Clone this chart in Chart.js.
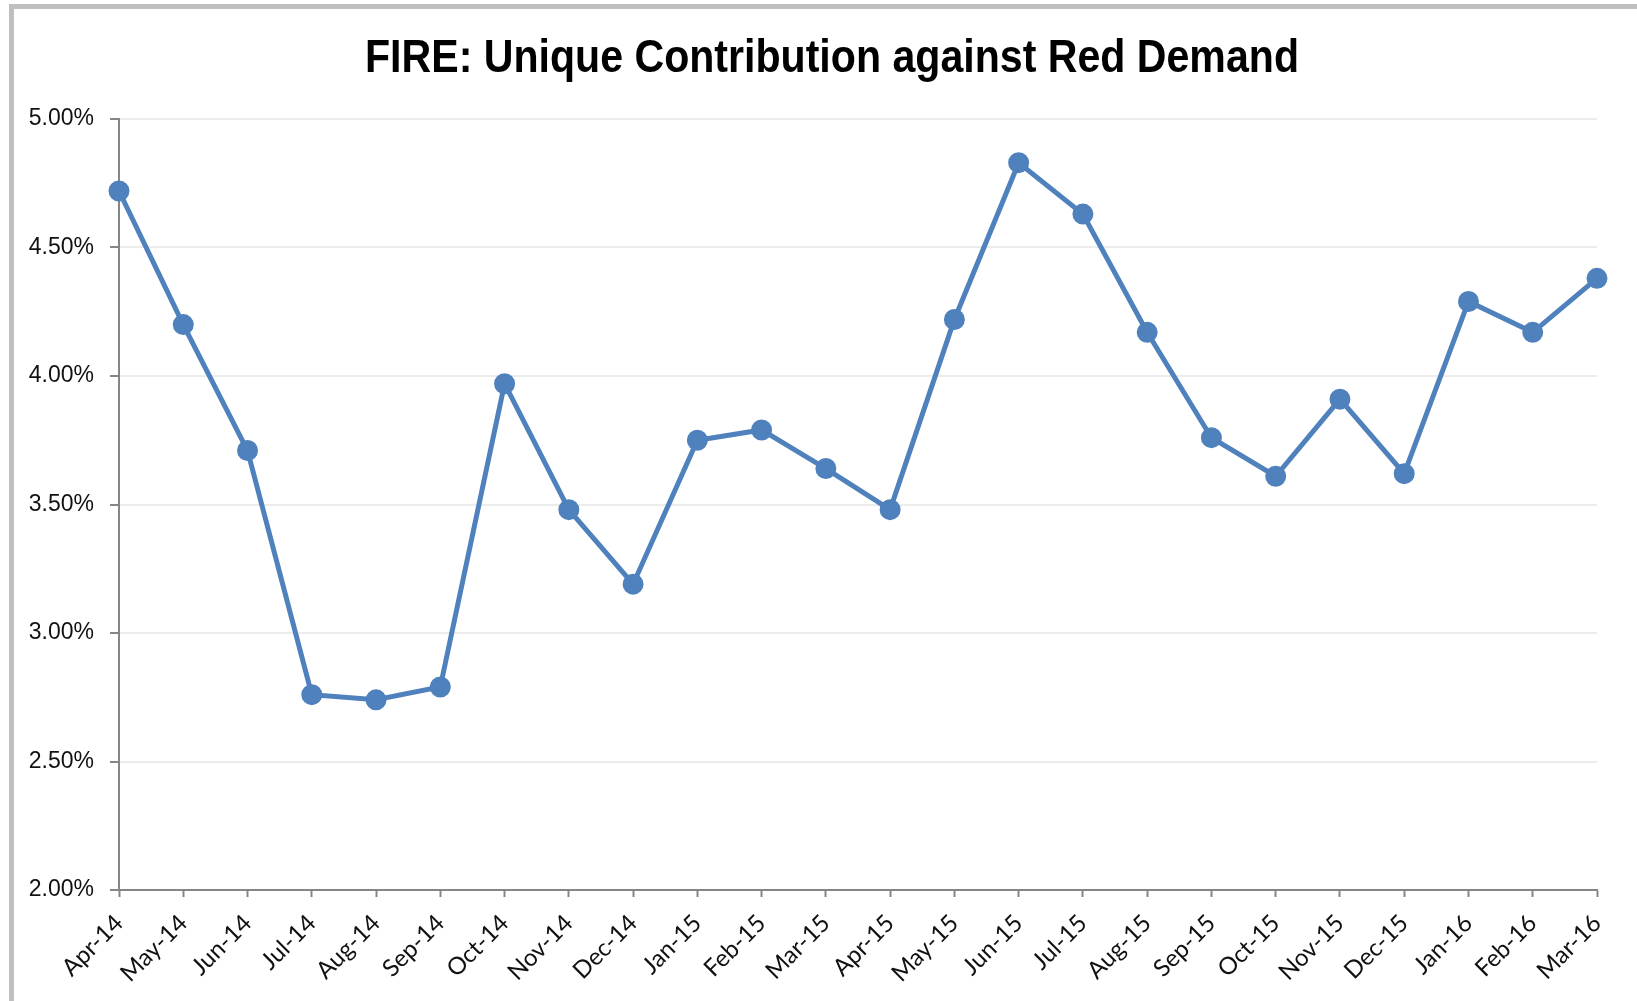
<!DOCTYPE html>
<html>
<head>
<meta charset="utf-8">
<script src="https://cdn.jsdelivr.net/npm/chart.js@4.4.1/dist/chart.umd.min.js"></script>
<style>
  html, body { margin: 0; padding: 0; background: #ffffff; overflow: hidden; }
  #wrap { position: relative; width: 1637px; height: 1001px; }
  #frame { position: absolute; left: 9px; top: 4px; width: 1700px; height: 1100px;
           border: 5px solid #bfbfbf; pointer-events: none; box-sizing: border-box; }
  canvas { position: absolute; left: 0; top: 0; }
</style>
</head>
<body>
<div id="wrap">
  <canvas id="c" width="1637" height="1001"></canvas>
  <div id="frame"></div>
</div>
<script>
const titleText = "FIRE: Unique Contribution against Red Demand";
const categories = ["Apr-14","May-14","Jun-14","Jul-14","Aug-14","Sep-14","Oct-14","Nov-14","Dec-14",
  "Jan-15","Feb-15","Mar-15","Apr-15","May-15","Jun-15","Jul-15","Aug-15","Sep-15","Oct-15","Nov-15","Dec-15",
  "Jan-16","Feb-16","Mar-16"];
const uniqueContribution = [4.72, 4.20, 3.71, 2.76, 2.74, 2.79, 3.97, 3.48, 3.19,
  3.75, 3.79, 3.64, 3.48, 4.22, 4.83, 4.63, 4.17, 3.76, 3.61, 3.91, 3.62,
  4.29, 4.17, 4.38];
const yMin = 2.0, yMax = 5.0, yStep = 0.5;

const axisColor = '#868686';
const gridColor = '#ececec';
const blue = '#4f81bd';

// Condensed bold title drawn as canvas text
const condensedTitle = {
  id: 'condensedTitle',
  afterDraw(chart) {
    const ctx = chart.ctx;
    const targetWidth = 934, centerX = 832, baselineY = 72;
    ctx.save();
    ctx.font = "bold 46px 'Liberation Sans', Arial, sans-serif";
    ctx.fillStyle = '#000000';
    ctx.textAlign = 'center';
    ctx.textBaseline = 'alphabetic';
    const w = ctx.measureText(titleText).width;
    const sx = Math.min(1, targetWidth / w);
    ctx.translate(centerX, baselineY);
    ctx.scale(sx, 1);
    ctx.fillText(titleText, 0, 0);
    ctx.restore();
  }
};

new Chart(document.getElementById('c'), {
  type: 'line',
  data: {
    labels: categories,
    datasets: [{
      label: 'Unique Contribution',
      data: uniqueContribution,
      borderColor: blue,
      backgroundColor: blue,
      borderWidth: 5,
      pointRadius: 9.5,
      pointBorderWidth: 2,
      pointBorderColor: blue,
      pointBackgroundColor: blue,
      pointHoverRadius: 9.5,
      tension: 0,
      clip: false
    }]
  },
  plugins: [condensedTitle],
  options: {
    responsive: false,
    animation: false,
    devicePixelRatio: 1,
    layout: { padding: { top: 119, left: 0, right: 40, bottom: 0 } },
    plugins: {
      legend: { display: false },
      tooltip: { enabled: false },
      title: { display: false }
    },
    scales: {
      x: {
        offset: false,
        border: { display: true, color: axisColor, width: 2 },
        grid: { display: true, drawOnChartArea: false, drawTicks: true, tickLength: 7, tickColor: axisColor, tickWidth: 2 },
        ticks: {
          autoSkip: false, minRotation: 45, maxRotation: 45, padding: 12,
          color: '#111111',
          font: { family: "Lato, 'Open Sans', sans-serif", size: 24 }
        },
        afterFit: (s) => { s.height = 111; s.paddingRight = 0; s.paddingLeft = 0; }
      },
      y: {
        min: yMin, max: yMax,
        border: { display: true, color: axisColor, width: 2 },
        grid: { color: gridColor, lineWidth: 2, drawTicks: true, tickLength: 9, tickColor: axisColor, tickWidth: 2 },
        ticks: {
          stepSize: yStep, padding: 16,
          color: '#111111',
          font: { family: "'Liberation Sans', Arial, sans-serif", size: 23 },
          callback: (v) => v.toFixed(2) + '%'
        },
        afterFit: (s) => { s.width = 119; s.paddingTop = 0; s.paddingBottom = 0; }
      }
    }
  }
});
</script>
</body>
</html>
